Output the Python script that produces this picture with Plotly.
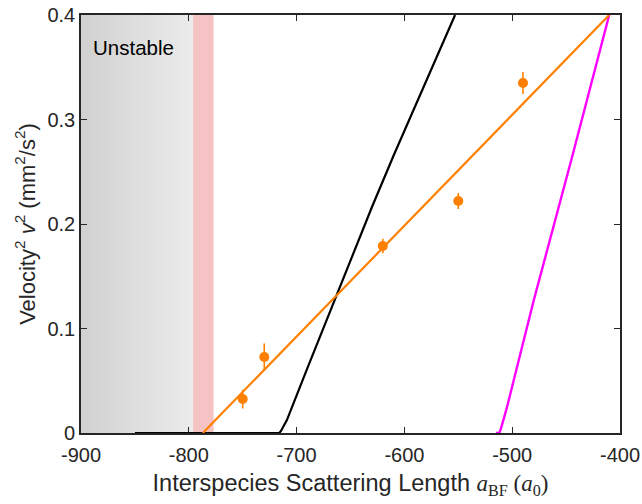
import plotly.graph_objects as go

# Measured squared velocity vs. interspecies scattering length
a_bf_meas = [-750, -730, -620, -550, -490]
v2_meas = [0.0325, 0.0727, 0.179, 0.222, 0.335]
v2_err = [0.009, 0.013, 0.007, 0.0077, 0.0105]

# Linear fit through the measurements
fit_a = [-787, -410]
fit_v2 = [0.0, 0.4]

# Model curves
model1_a = [-850, -716, -714.5, -712.5, -709, -690, -670, -650, -630, -610, -590, -570, -553]
model1_v2 = [0.0, 0.0, 0.002, 0.006, 0.0124, 0.062, 0.114, 0.166, 0.2165, 0.2655, 0.313, 0.36, 0.4]
model2_a = [-515, -512, -510.5, -508.5, -505, -480, -445, -410]
model2_v2 = [0.0, 0.0, 0.004, 0.011, 0.024, 0.127, 0.262, 0.4]

# Shaded regions
unstable_a = [-900, -796]
band_a = [-796, -777]
v2_span = [0.0, 0.4]

# Axis ticks
x_ticks = [-900, -800, -700, -600, -500, -400]
x_tick_text = ["-900", "-800", "-700", "-600", "-500", "-400"]
y_ticks = [0, 0.1, 0.2, 0.3, 0.4]
y_tick_text = ["0", "0.1", "0.2", "0.3", "0.4"]

ORANGE = "#ff8000"
AXIS = "#262626"
FONT = "Liberation Sans, Arial, sans-serif"

fig = go.Figure()

# Unstable region with a horizontal grey gradient
fig.add_trace(go.Scatter(
    x=[unstable_a[0], unstable_a[1], unstable_a[1], unstable_a[0], unstable_a[0]],
    y=[v2_span[0], v2_span[0], v2_span[1], v2_span[1], v2_span[0]],
    mode="none", fill="toself",
    fillgradient=dict(type="horizontal",
                      colorscale=[[0, "#d1d1d1"], [1, "#ebebeb"]]),
    hoverinfo="skip", showlegend=False,
))

# Transition band
fig.add_trace(go.Scatter(
    x=[band_a[0], band_a[1], band_a[1], band_a[0], band_a[0]],
    y=[v2_span[0], v2_span[0], v2_span[1], v2_span[1], v2_span[0]],
    mode="none", fill="toself", fillcolor="#f5c3c3",
    hoverinfo="skip", showlegend=False,
))

fig.add_trace(go.Scatter(
    x=model1_a, y=model1_v2, mode="lines",
    line=dict(color="black", width=2.2),
    showlegend=False,
))

fig.add_trace(go.Scatter(
    x=model2_a, y=model2_v2, mode="lines",
    line=dict(color="#ff00ff", width=2.4),
    showlegend=False,
))

fig.add_trace(go.Scatter(
    x=fit_a, y=fit_v2, mode="lines",
    line=dict(color=ORANGE, width=2.2),
    showlegend=False,
))

fig.add_trace(go.Scatter(
    x=a_bf_meas, y=v2_meas, mode="markers",
    marker=dict(color=ORANGE, size=10),
    error_y=dict(type="data", array=v2_err, color=ORANGE, thickness=1.6, width=0),
    showlegend=False,
))

fig.add_annotation(
    x=-891, y=0.369, xref="x", yref="y", text="Unstable",
    showarrow=False, xanchor="left", yanchor="middle",
    font=dict(family=FONT, size=20.5, color="#000000"),
)

axis_common = dict(
    showline=True, linecolor=AXIS, linewidth=1.6, mirror="ticks",
    ticks="inside", ticklen=6, tickwidth=1.4, tickcolor=AXIS,
    showgrid=False, zeroline=False, automargin=False,
    tickfont=dict(family=FONT, size=20, color=AXIS),
)

fig.update_layout(
    width=642, height=504,
    margin=dict(l=81, r=22, t=15, b=71),
    paper_bgcolor="white", plot_bgcolor="white",
    xaxis=dict(
        range=[-900, -400], tickvals=x_ticks, ticktext=x_tick_text,
        ticklabelstandoff=3,
        title=dict(
            text='Interspecies Scattering Length '
                 '<span style="font-family:Liberation Serif, Times New Roman, serif;font-size:23px">'
                 '<i>a</i><sub>BF</sub> (<i>a</i><sub>0</sub>)</span>',
            font=dict(family=FONT, size=23.5, color=AXIS), standoff=10,
        ),
        **axis_common,
    ),
    yaxis=dict(
        range=[0, 0.4], tickvals=y_ticks, ticktext=y_tick_text,
        title=dict(
            text='Velocity<sup>2</sup> <i>v</i><sup>2</sup> (mm<sup>2</sup>/s<sup>2</sup>)',
            font=dict(family=FONT, size=22, color=AXIS), standoff=6,
        ),
        **axis_common,
    ),
)

fig.write_html("out.html")
